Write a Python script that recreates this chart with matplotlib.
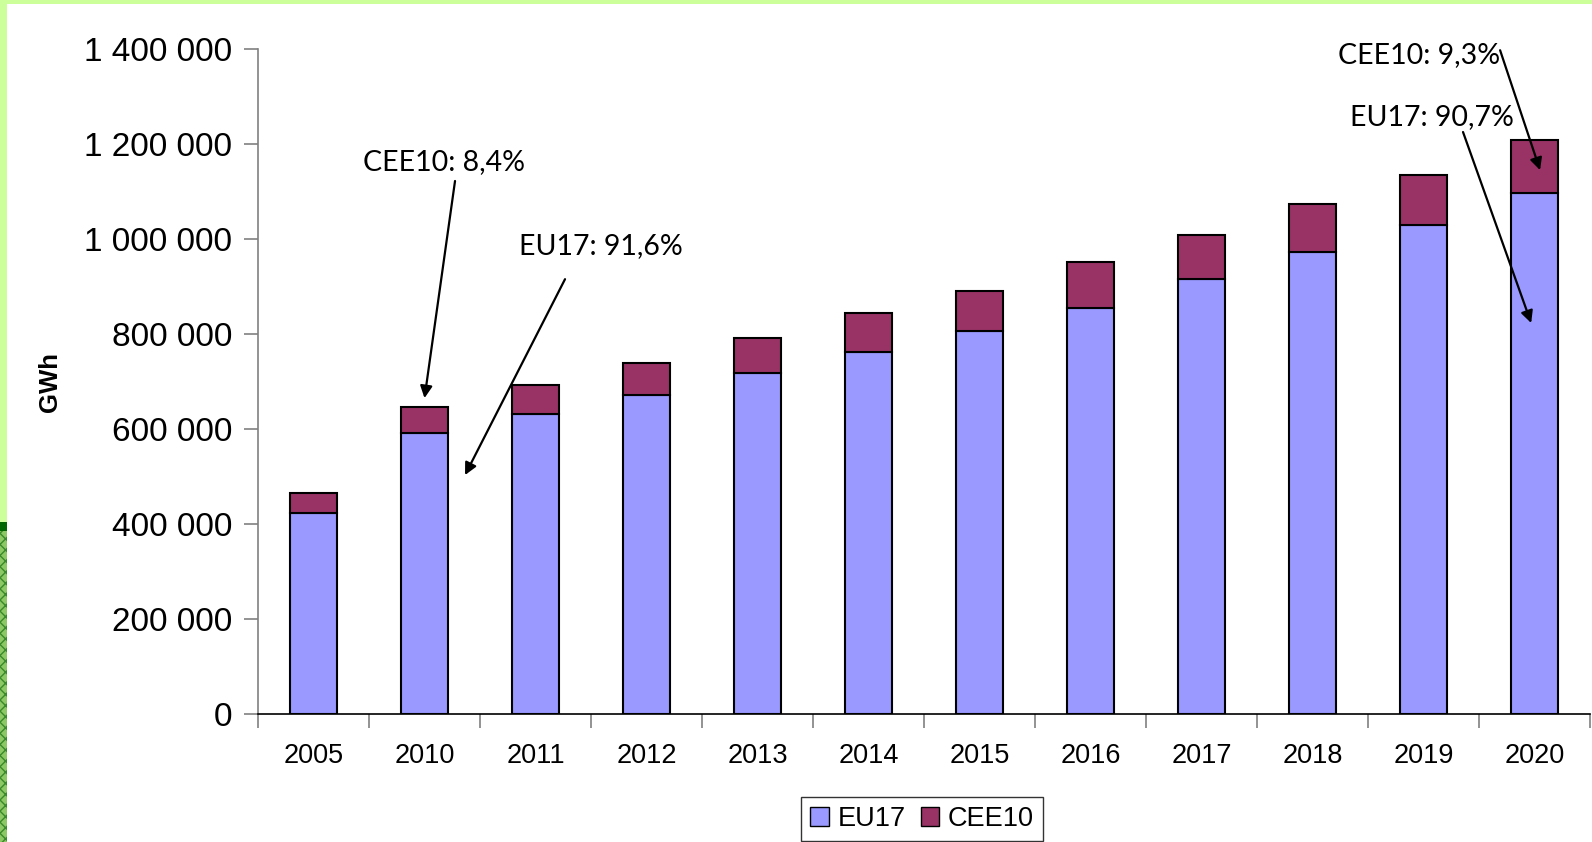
import numpy as np
import matplotlib
matplotlib.use('Agg')
import matplotlib.pyplot as plt
from matplotlib.patches import Rectangle, Patch
from matplotlib.ticker import FuncFormatter, FixedLocator

years = ['2005', '2010', '2011', '2012', '2013', '2014', '2015', '2016', '2017', '2018', '2019', '2020']
eu17 = [423000, 591000, 630500, 671000, 718000, 761000, 806000, 855000, 915000, 972500, 1030000, 1096000]
cee10 = [41000, 54500, 62000, 68500, 73000, 83000, 85000, 96000, 94000, 100500, 105000, 111500]
yticks = [0, 200000, 400000, 600000, 800000, 1000000, 1200000, 1400000]

W, H = 1592, 842
fig = plt.figure(figsize=(W/100, H/100), dpi=100)
fig.patch.set_facecolor('white')

# green frame pieces along the top and left edge
fig.add_artist(Rectangle((0, 1-4/H), 1, 4/H, transform=fig.transFigure, color='#CCFF99', lw=0))
fig.add_artist(Rectangle((0, 1-522/H), 7/W, 522/H, transform=fig.transFigure, color='#CCFF99', lw=0))
fig.add_artist(Rectangle((0, 1-531/H), 7/W, 9/H, transform=fig.transFigure, color='#006600', lw=0))
fig.add_artist(Rectangle((0, 0), 7/W, 1-531/H, transform=fig.transFigure, facecolor='#8CC864',
                         hatch='xxx', edgecolor='#3A8A2A', lw=0))

ax = fig.add_axes([258/W, 1-713.8/H, 1332/W, 665/H])
x = np.arange(len(years))
ax.bar(x, eu17, width=0.42, color='#9999FF', edgecolor='black', lw=1.5, label='EU17')
ax.bar(x, cee10, width=0.42, bottom=eu17, color='#993366', edgecolor='black', lw=1.5, label='CEE10')

ax.set_xlim(-0.5, len(years)-0.5)
ax.set_ylim(0, 1400000)
ax.set_yticks(yticks)
ax.yaxis.set_major_formatter(FuncFormatter(lambda v, p: f'{int(v):,}'.replace(',', ' ')))
ax.tick_params(axis='y', labelsize=24, length=10, width=1.2, color='#808080', pad=8.5)
ax.set_xticks(x)
ax.set_xticklabels(years)
ax.xaxis.set_minor_locator(FixedLocator(np.arange(-0.5, len(years), 1)))
ax.tick_params(axis='x', which='major', length=0, labelsize=19.5, pad=21)
ax.tick_params(axis='x', which='minor', length=10, width=1.2, color='#808080')
for t in ax.get_xticklabels() + ax.get_yticklabels():
    t.set_fontfamily('Liberation Sans')

for s in ['top', 'right']:
    ax.spines[s].set_visible(False)
ax.spines['left'].set_color('#808080')
ax.spines['left'].set_linewidth(1.2)
ax.spines['bottom'].set_linewidth(1.2)

fig.text(50/W, 1-382/H, 'GWh', rotation=90, ha='center', va='center',
         fontsize=18.5, fontweight='bold', family='Liberation Sans')

# percentage share callouts
notes = [('CEE10: 8,4%', 444, 162, (1.275, 1121700), (1.0, 664600)),
         ('EU17: 91,6%', 601, 246, (2.266, 915000), (1.365, 502600)),
         ('CEE10: 9,3%', 1419, 55, (10.69, 1397000), (11.05, 1144600)),
         ('EU17: 90,7%', 1432, 117, (10.356, 1224800), (10.97, 822700))]
for txt, tx, ty, start, end in notes:
    fig.text(tx/W, 1-ty/H, txt, ha='center', va='center', fontsize=20.5, family='Lato')
    ax.annotate('', xy=end, xytext=start, annotation_clip=False,
                arrowprops=dict(arrowstyle='-|>', color='black', lw=1.6, mutation_scale=18,
                                shrinkA=0, shrinkB=0))

handles = [Patch(facecolor='#9999FF', edgecolor='black', label='EU17'),
           Patch(facecolor='#993366', edgecolor='black', label='CEE10')]
leg = fig.legend(handles=handles, loc='lower center', bbox_to_anchor=(922/W, 1.5/H), ncol=2,
                 frameon=True, fancybox=False, edgecolor='black', handlelength=0.7, handleheight=0.7,
                 handletextpad=0.3, columnspacing=0.55, borderpad=0.33, borderaxespad=0,
                 prop={'family': 'Liberation Sans', 'size': 19.5})
leg.get_frame().set_linewidth(1.0)

fig.savefig('out.png', dpi=100)
